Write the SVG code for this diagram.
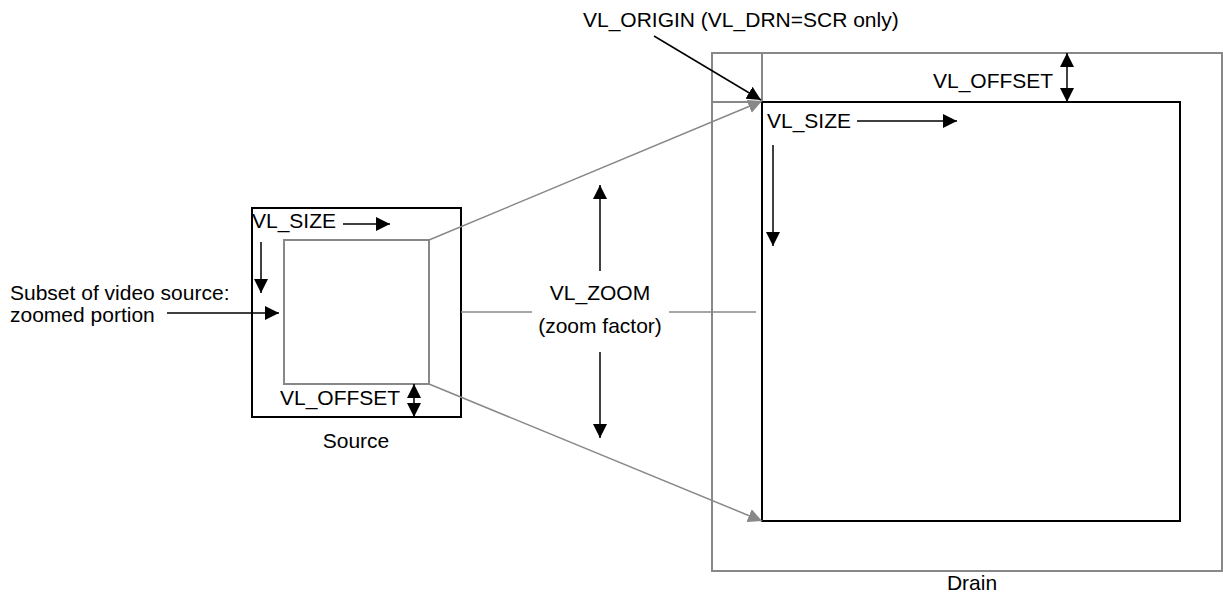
<svg xmlns="http://www.w3.org/2000/svg" width="1223" height="593" viewBox="0 0 1223 593">
<style>
text{font-family:"Liberation Sans",Arial,sans-serif;font-size:21px;fill:#000}
.blk{fill:none;stroke:#000;stroke-width:2}
.gry{fill:none;stroke:#888;stroke-width:2}
.arr{fill:none;stroke:#000;stroke-width:1.5}
.garr{fill:none;stroke:#888;stroke-width:1.5}
</style>
<defs>
<marker id="ah" viewBox="0 0 14 14" refX="14" refY="7" markerWidth="14" markerHeight="14" markerUnits="userSpaceOnUse" orient="auto-start-reverse"><path d="M0,0 L14,7 L0,14 z" fill="#000"/></marker>
<marker id="gah" viewBox="0 0 14 14" refX="14" refY="7" markerWidth="14" markerHeight="14" markerUnits="userSpaceOnUse" orient="auto"><path d="M0,0 L14,7 L0,14 z" fill="#888"/></marker>
</defs>
<rect width="1223" height="593" fill="#fff"/>
<g id="source">
<rect class="blk" x="252" y="208" width="209" height="209"/>
<rect class="gry" x="284" y="240" width="145" height="144"/>
<text x="252" y="228">VL_SIZE</text>
<text x="280" y="405">VL_OFFSET</text>
<text x="356" y="448" text-anchor="middle">Source</text>
</g>
<g id="drain">
<rect class="gry" x="712" y="53" width="510" height="518"/>
<line class="gry" x1="762" y1="53" x2="762" y2="102"/>
<line class="gry" x1="712" y1="102" x2="762" y2="102"/>
<rect class="blk" x="762" y="102" width="418" height="419"/>
<text x="767" y="128">VL_SIZE</text>
<text x="933" y="88">VL_OFFSET</text>
<text x="972" y="590" text-anchor="middle">Drain</text>
</g>
<g id="subset-label">
<text x="10" y="300">Subset of video source:</text>
<text x="10" y="322">zoomed portion</text>
</g>
<g id="origin-label">
<text x="583" y="27">VL_ORIGIN (VL_DRN=SCR only)</text>
</g>
<g id="zoom-label">
<text x="600" y="300" text-anchor="middle">VL_ZOOM</text>
<text x="600" y="333" text-anchor="middle">(zoom factor)</text>
</g>
<g id="connectors">
<line class="garr" x1="429" y1="240" x2="762" y2="101" marker-end="url(#gah)"/>
<line class="garr" x1="429" y1="384" x2="762" y2="521" marker-end="url(#gah)"/>
<line class="garr" x1="461" y1="312" x2="532" y2="312"/>
<line class="garr" x1="669" y1="312" x2="756" y2="312"/>
<line class="arr" x1="654" y1="36" x2="761" y2="100" marker-end="url(#ah)"/>
<line class="arr" x1="600" y1="271" x2="600" y2="185" marker-end="url(#ah)"/>
<line class="arr" x1="600" y1="352" x2="600" y2="438" marker-end="url(#ah)"/>
<line class="arr" x1="343" y1="224" x2="390" y2="224" marker-end="url(#ah)"/>
<line class="arr" x1="261" y1="242" x2="261" y2="293" marker-end="url(#ah)"/>
<line class="arr" x1="167" y1="313" x2="279" y2="313" marker-end="url(#ah)"/>
<line class="arr" x1="414" y1="384" x2="414" y2="417" marker-start="url(#ah)" marker-end="url(#ah)"/>
<line class="arr" x1="857" y1="121" x2="957" y2="121" marker-end="url(#ah)"/>
<line class="arr" x1="773" y1="145" x2="773" y2="246" marker-end="url(#ah)"/>
<line class="arr" x1="1067" y1="53" x2="1067" y2="102" marker-start="url(#ah)" marker-end="url(#ah)"/>
</g>
</svg>
